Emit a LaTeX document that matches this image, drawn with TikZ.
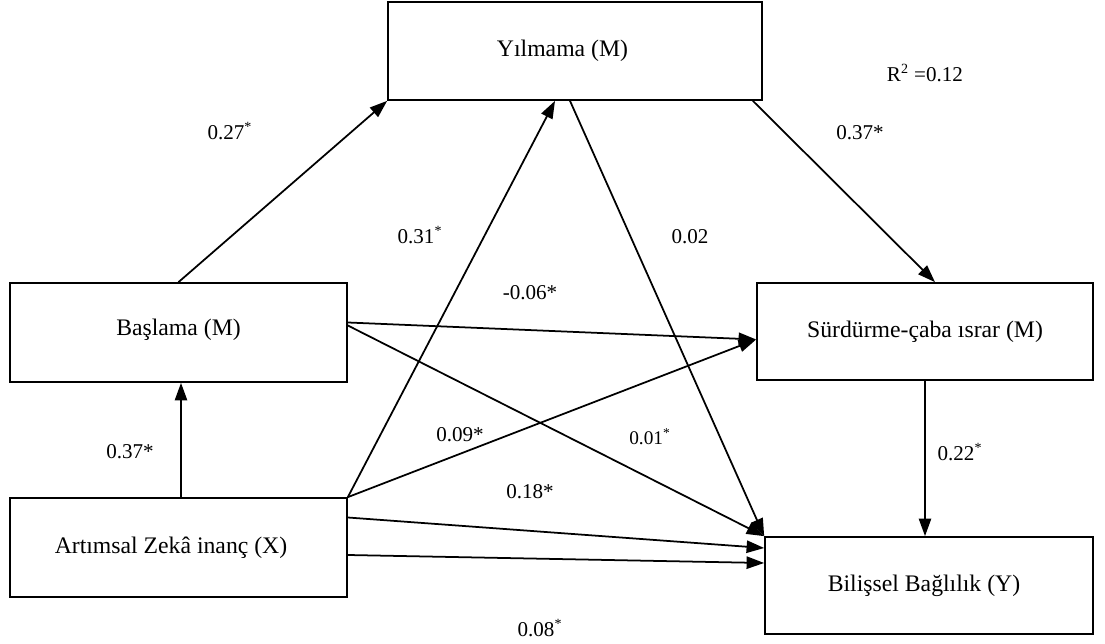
\documentclass[tikz,border=0pt]{standalone}
\usepackage{fontspec}
\setmainfont{Liberation Serif}
\usetikzlibrary{arrows.meta, positioning}
\tikzset{
	>={Triangle[length=10pt, width=7pt]},
	box/.style={draw, line width=1pt, inner sep=0pt, font=\fontsize{13.5}{15}\selectfont},
	path/.style={->, line width=1pt},
	coef/.style={font=\fontsize{12}{14}\selectfont, inner sep=1pt}
}
\newcommand{\sig}{\textsuperscript{*}}

\begin{document}
\begin{tikzpicture}[x=0.02cm, y=-0.02cm]
	\useasboundingbox (0,0) rectangle (1105,644);
	% boxes
	\node[box, minimum width=7.48cm, minimum height=1.96cm] (yil) at (575,51) {\hspace*{-0.5cm}Yılmama (M)};
	\node[box, minimum width=6.74cm, minimum height=1.98cm] (bas) at (178.5,332.5) {\raisebox{0.2cm}{Başlama (M)}};
	\node[box, minimum width=6.72cm, minimum height=1.94cm] (sur) at (925,331.5) {\raisebox{0.1cm}{Sürdürme-çaba ısrar (M)}};
	\node[box, minimum width=6.74cm, minimum height=1.98cm] (art) at (178.5,547.5) {\hspace*{-0.3cm}\raisebox{-0.1cm}{Artımsal Zekâ inanç (X)}};
	\node[box, minimum width=6.56cm, minimum height=1.94cm] (bil) at (929,585.5) {\hspace*{-0.2cm}Bilişsel Bağlılık (Y)};
	% paths
	\draw[path] (bas.north) -- (yil.south west);
	\draw[path] ([xshift=0.05cm]art.north) -- ([xshift=0.05cm]bas.south);
	\draw[path] (art.north east) -- ([xshift=-0.4cm]yil.south);
	\draw[path] ([xshift=-0.1cm]yil.south) -- (bil.north west);
	\draw[path] ([xshift=-0.2cm]yil.south east) -- ([xshift=0.2cm]sur.north);
	\draw[path] ([yshift=0.2cm]bas.east) -- ([yshift=-0.16cm]sur.west);
	\draw[path] ([yshift=0.14cm]bas.east) -- (bil.north west);
	\draw[path] (art.north east) -- ([yshift=-0.16cm]sur.west);
	\draw[path] (sur.south) -- (sur.south |- bil.north);
	\draw[path] ([yshift=0.6cm]art.east) -- ([yshift=0.75cm]bil.west);
	\draw[path] ([yshift=-0.15cm]art.east) -- ([yshift=0.45cm]bil.west);
	% coefficients
	\node[coef] (c1) at (230,131) {0.27\sig};
	\node[coef] (c2) at (420,235) {0.31\sig};
	\node[coef] (c3) at (860,133) {0.37*};
	\node[coef] (r2) at (925,73) {R\textsuperscript{2} =0.12};
	\node[coef] (c4) at (690,237) {0.02};
	\node[coef] (c5) at (530,293) {-0.06*};
	\node[coef] (c6) at (460,435) {0.09*};
	\node[coef, font=\fontsize{11}{13}\selectfont] (c7) at (650,437) {0.01\sig};
	\node[coef] (c8) at (530,492) {0.18*};
	\node[coef] (c9) at (130,452) {0.37*};
	\node[coef] (c10) at (960,452) {0.22\sig};
	\node[coef] (c11) at (540,628) {0.08\sig};
\end{tikzpicture}
\end{document}
